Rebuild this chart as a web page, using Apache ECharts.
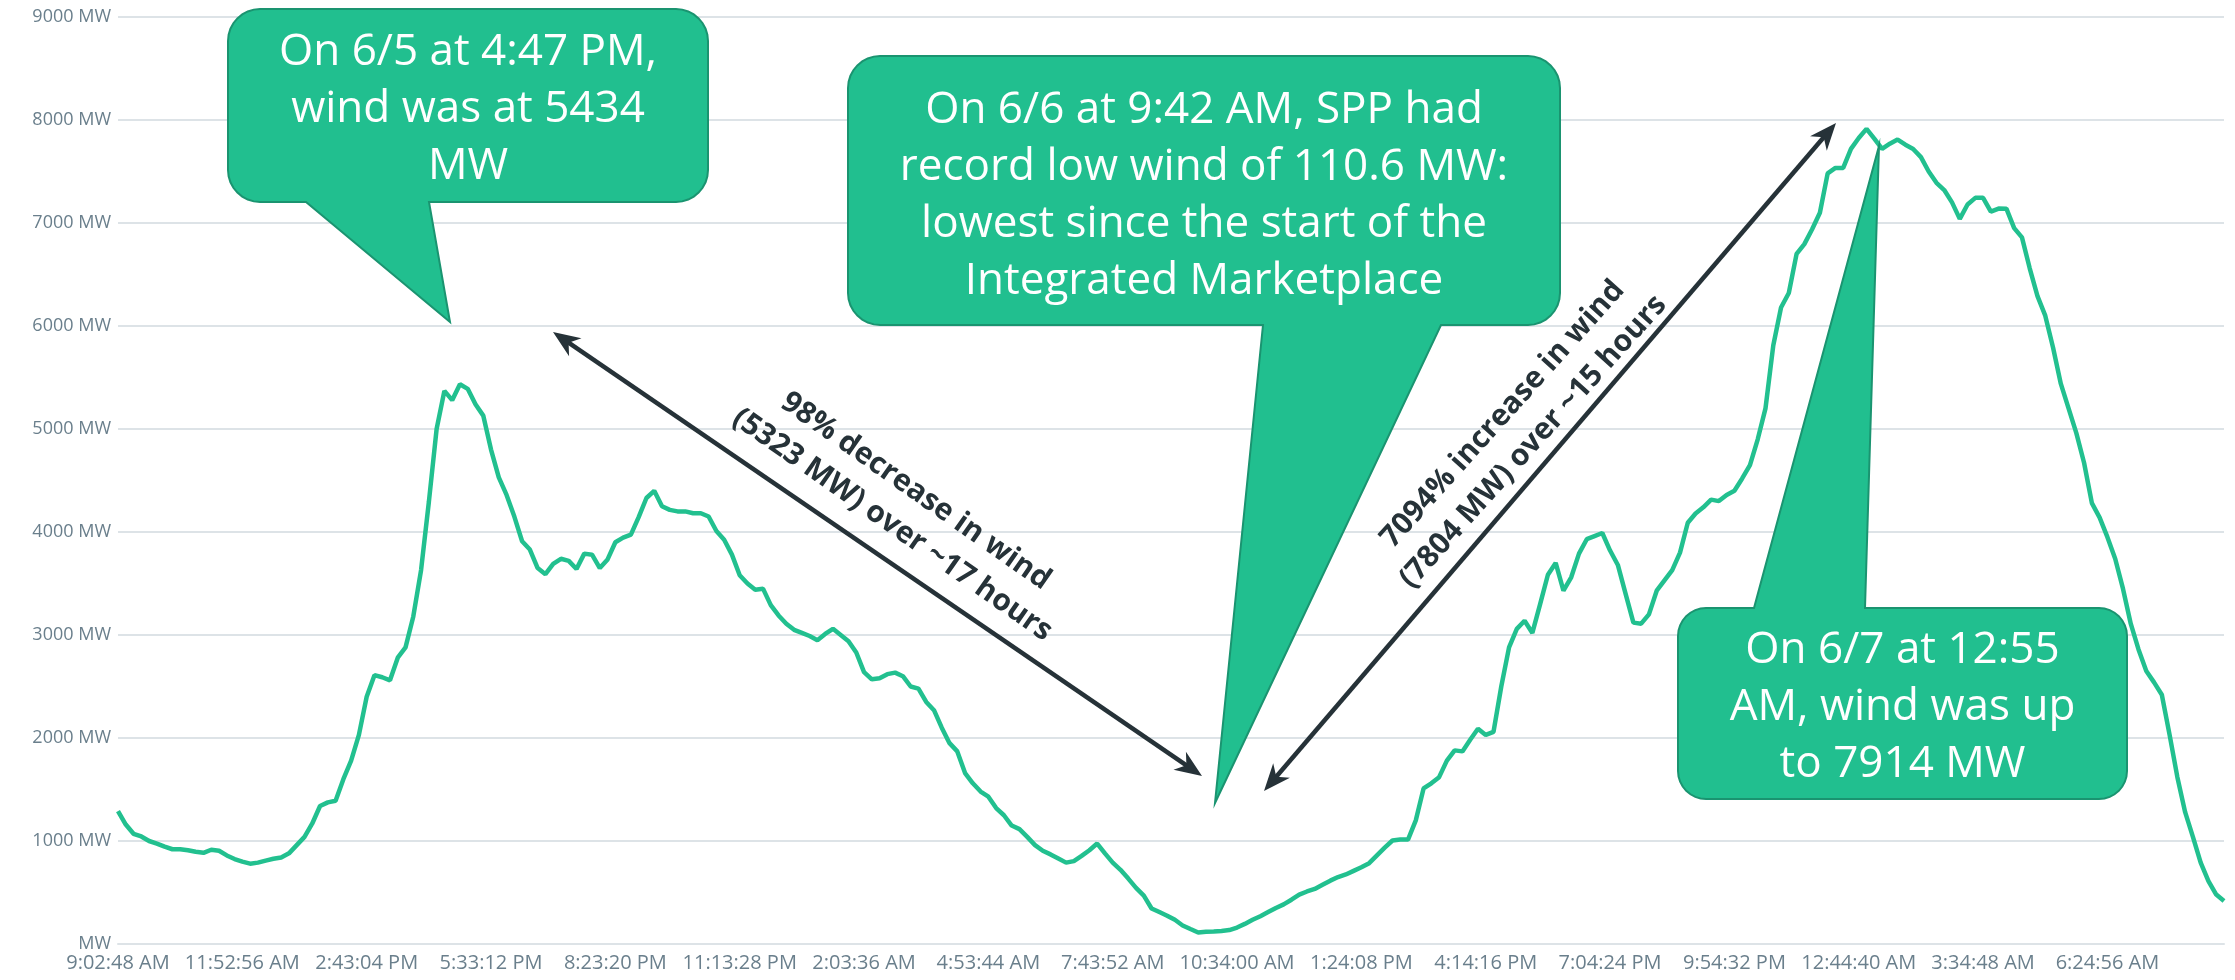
<!DOCTYPE html>
<html lang="en">
<head>
    <meta charset="UTF-8">
    <title>SPP wind</title>
    <style>
        * {
            margin: 0;
            padding: 0;
        }

        html, body {
            width: 100%;
            height: 100%;
            background: #fff;
        }

        #chart {
            width: 2235px;
            height: 980px;
        }
    </style>
    <script src="https://cdn.jsdelivr.net/npm/echarts@6/dist/echarts.min.js"></script>
</head>
<body>
<div id="chart"></div>

<script>
    // start of the series and the step between samples (seconds)
    const startSeconds = 9 * 3600 + 2 * 60 + 48
    const stepSeconds = 638

    const tickLabels = [
        "9:02:48 AM", "11:52:56 AM", "2:43:04 PM", "5:33:12 PM", "8:23:20 PM", "11:13:28 PM",
        "2:03:36 AM", "4:53:44 AM", "7:43:52 AM", "10:34:00 AM", "1:24:08 PM", "4:14:16 PM",
        "7:04:24 PM", "9:54:32 PM", "12:44:40 AM", "3:34:48 AM", "6:24:56 AM"
    ]

    const yTicks = [0, 1000, 2000, 3000, 4000, 5000, 6000, 7000, 8000, 9000]

    // wind output (MW)
    const windMW = [
        1290, 1160, 1070, 1044, 1000, 975, 945, 920, 920, 910,
        895, 885, 915, 905, 860, 825, 800, 780, 790, 810,
        827, 840, 880, 960, 1040, 1170, 1340, 1375, 1390, 1600,
        1780, 2030, 2400, 2610, 2590, 2560, 2780, 2880, 3180, 3630,
        4290, 5000, 5370, 5280, 5434, 5390, 5240, 5130, 4800, 4530,
        4360, 4150, 3910, 3830, 3650, 3590, 3690, 3740, 3720, 3640,
        3790, 3780, 3650, 3734, 3900, 3945, 3975, 4144, 4330, 4400,
        4250, 4215, 4200, 4200, 4182, 4182, 4150, 4010, 3925, 3780,
        3580, 3500, 3440, 3450, 3290, 3190, 3110, 3050, 3020, 2990,
        2950, 3010, 3060, 3000, 2940, 2830, 2640, 2570, 2580, 2620,
        2635, 2600, 2500, 2480, 2350, 2270, 2100, 1950, 1870, 1660,
        1560, 1480, 1430, 1320, 1250, 1150, 1115, 1040, 960, 905,
        870, 830, 790, 805, 855, 910, 975, 880, 790, 720,
        635, 545, 470, 345, 310, 275, 235, 180, 145, 111,
        119, 122, 127, 135, 160, 195, 235, 270, 310, 350,
        385, 430, 480, 510, 535, 575, 615, 650, 675, 710,
        745, 785, 860, 935, 1005, 1014, 1014, 1200, 1510, 1560,
        1620, 1780, 1880, 1870, 1983, 2090, 2030, 2060, 2500, 2880,
        3060, 3138, 3020, 3300, 3585, 3700, 3430, 3560, 3790, 3930,
        3960, 3990, 3820, 3680, 3400, 3120, 3110, 3200, 3430, 3530,
        3630, 3800, 4090, 4180, 4240, 4314, 4300, 4360, 4400, 4520,
        4650, 4900, 5200, 5810, 6180, 6320, 6700, 6795, 6940, 7100,
        7482, 7535, 7535, 7720, 7825, 7914, 7820, 7720, 7770, 7810,
        7760, 7719, 7640, 7500, 7390, 7320, 7200, 7040, 7180, 7244,
        7244, 7110, 7140, 7139, 6950, 6860, 6560, 6290, 6100, 5792,
        5440, 5200, 4960, 4670, 4280, 4140, 3950, 3740, 3450, 3110,
        2860, 2650, 2540, 2420, 2030, 1620, 1280, 1040, 790, 610,
        480, 417
    ]

    function fmtTime(sec) {
        sec = sec % 86400
        let h = Math.floor(sec / 3600)
        let m = Math.floor(sec % 3600 / 60)
        let s = sec % 60
        let ap = h >= 12 ? 'PM' : 'AM'
        let h12 = h % 12 === 0 ? 12 : h % 12
        return h12 + ':' + String(m).padStart(2, '0') + ':' + String(s).padStart(2, '0') + ' ' + ap
    }

    const categories = windMW.map((v, i) => fmtTime(startSeconds + i * stepSeconds))
    const labelEvery = 16

    const GREEN = '#21bf8f'
    const GREEN_EDGE = '#1a9470'
    const DARK = '#263238'
    const FONT = '"Open Sans", "Noto Sans", sans-serif'

    // speech bubble outline as polygon points (rounded corners)
    function bubblePoints(x0, y0, x1, y1, r, tail) {
        let pts = []
        function arc(cx, cy, a0, a1) {
            for (let k = 0; k <= 8; k++) {
                let a = (a0 + (a1 - a0) * k / 8) * Math.PI / 180
                pts.push([cx + r * Math.cos(a), cy + r * Math.sin(a)])
            }
        }
        arc(x0 + r, y0 + r, 180, 270)
        if (tail.side === 'top') {
            pts.push([tail.a, y0], [tail.tx, tail.ty], [tail.c, y0])
        }
        arc(x1 - r, y0 + r, 270, 360)
        arc(x1 - r, y1 - r, 0, 90)
        if (tail.side === 'bottom') {
            pts.push([tail.c, y1], [tail.tx, tail.ty], [tail.a, y1])
        }
        arc(x0 + r, y1 - r, 90, 180)
        return pts
    }

    function bubble(box, text, textY) {
        return [
            {
                type: 'polygon',
                z: 100,
                shape: {points: bubblePoints(box.x0, box.y0, box.x1, box.y1, box.r, box.tail)},
                style: {fill: GREEN, stroke: GREEN_EDGE, lineWidth: 2}
            },
            {
                type: 'text',
                z: 101,
                x: (box.x0 + box.x1) / 2,
                y: textY,
                style: {
                    text: text,
                    fill: '#fff',
                    fontFamily: FONT,
                    fontSize: 44,
                    lineHeight: 57,
                    textAlign: 'center',
                    textVerticalAlign: 'middle'
                }
            }
        ]
    }

    // double headed arrow
    function arrow(p, q) {
        let dx = q[0] - p[0], dy = q[1] - p[1]
        let len = Math.sqrt(dx * dx + dy * dy)
        let ux = dx / len, uy = dy / len
        let nx = -uy, ny = ux
        let hl = 27, hw = 11
        function head(tip, sx, sy) {
            let bx = tip[0] - sx * hl, by = tip[1] - sy * hl
            return {
                type: 'polygon',
                z: 90,
                shape: {points: [tip, [bx + nx * hw, by + ny * hw], [tip[0] - sx * hl * 0.7, tip[1] - sy * hl * 0.7], [bx - nx * hw, by - ny * hw]]},
                style: {fill: DARK}
            }
        }
        return [
            {
                type: 'line',
                z: 90,
                shape: {
                    x1: p[0] + ux * hl * 0.6, y1: p[1] + uy * hl * 0.6,
                    x2: q[0] - ux * hl * 0.6, y2: q[1] - uy * hl * 0.6
                },
                style: {stroke: DARK, lineWidth: 4.5}
            },
            head(q, ux, uy),
            head(p, -ux, -uy)
        ]
    }

    function arrowText(text, cx, cy, deg) {
        return {
            type: 'text',
            z: 95,
            x: cx,
            y: cy,
            rotation: deg * Math.PI / 180,
            style: {
                text: text,
                fill: DARK,
                fontFamily: FONT,
                fontWeight: 'bold',
                fontSize: 30,
                lineHeight: 41,
                textAlign: 'center',
                textVerticalAlign: 'middle'
            }
        }
    }

    let graphics = [].concat(
        arrow([553, 332], [1202, 776]),
        arrow([1264, 791], [1836, 123]),
        [
            arrowText('98% decrease in wind\n(5323 MW) over ~17 hours', 904, 508, -35),
            arrowText('7094% increase in wind\n(7804 MW) over ~15 hours', 1518, 428, 48)
        ],
        bubble({x0: 228, y0: 9, x1: 708, y1: 202, r: 32, tail: {side: 'bottom', a: 306, c: 429, tx: 450, ty: 322}},
            'On 6/5 at 4:47 PM,\nwind was at 5434\nMW', 109),
        bubble({x0: 848, y0: 56, x1: 1560, y1: 325, r: 32, tail: {side: 'bottom', a: 1263, c: 1441, tx: 1215, ty: 803}},
            'On 6/6 at 9:42 AM, SPP had\nrecord low wind of 110.6 MW:\nlowest since the start of the\nIntegrated Marketplace', 196),
        bubble({x0: 1678, y0: 608, x1: 2127, y1: 799, r: 28, tail: {side: 'top', a: 1754, c: 1865, tx: 1879, ty: 146}},
            'On 6/7 at 12:55\nAM, wind was up\nto 7914 MW', 707)
    )

    let chart = echarts.init(document.getElementById('chart'))
    let option = {
        animation: false,
        grid: {
            left: 118,
            right: 11,
            top: 17,
            bottom: 36
        },
        xAxis: {
            type: 'category',
            boundaryGap: false,
            data: categories,
            axisTick: {show: false},
            axisLine: {lineStyle: {color: '#dde3e7', width: 2}},
            axisLabel: {
                interval: labelEvery - 1,
                hideOverlap: false,
                color: '#6a7f8c',
                fontFamily: FONT,
                fontSize: 20,
                margin: 9,
                formatter: function (v, i) {
                    return i % labelEvery === 0 ? tickLabels[i / labelEvery] : ''
                }
            }
        },
        yAxis: {
            type: 'value',
            min: yTicks[0],
            max: yTicks[yTicks.length - 1],
            interval: 1000,
            axisLabel: {
                color: '#6a7f8c',
                fontFamily: FONT,
                fontSize: 18,
                margin: 7,
                formatter: function (v) {
                    return v === 0 ? 'MW' : v + ' MW'
                }
            },
            splitLine: {lineStyle: {color: '#dde3e7', width: 2}}
        },
        series: [
            {
                name: 'Wind',
                type: 'line',
                data: windMW,
                showSymbol: false,
                symbol: 'none',
                lineStyle: {color: '#22c08f', width: 4.5},
                z: 3
            }
        ],
        graphic: graphics
    }
    chart.setOption(option, true)
</script>
</body>
</html>
